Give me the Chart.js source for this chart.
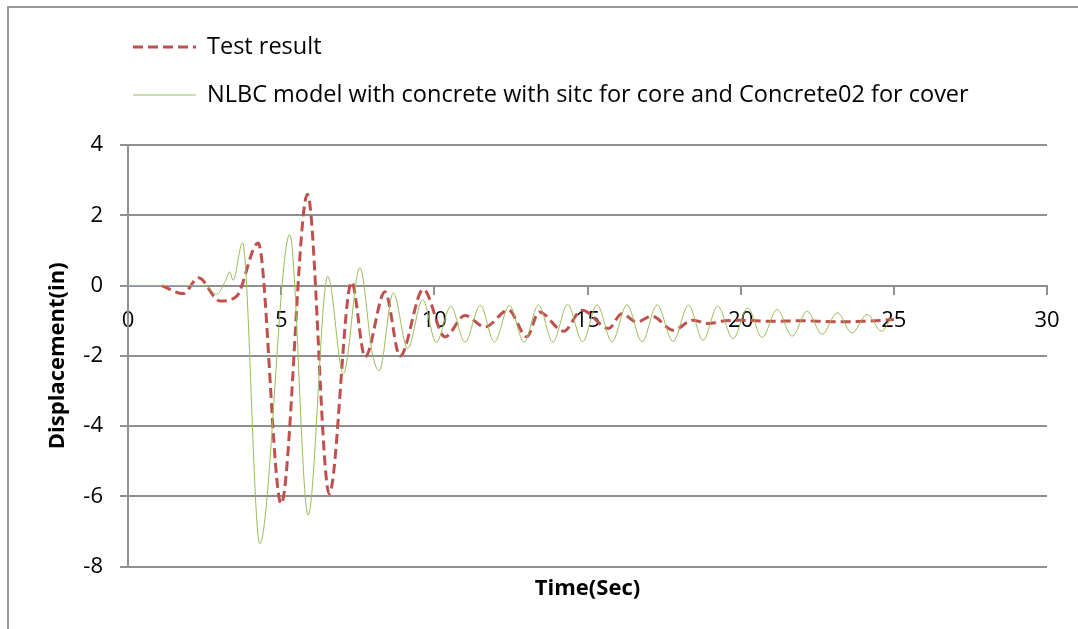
<!DOCTYPE html>
<html>
<head>
<meta charset="utf-8">
<script src="https://cdn.jsdelivr.net/npm/chart.js@4.4.1/dist/chart.umd.min.js"></script>
<style>
html, body { margin: 0; padding: 0; background: #fff; overflow: hidden; }
#wrap { position: relative; width: 1078px; height: 629px; }
#chart { position: absolute; left: 0; top: 0; }
#frame { position: absolute; left: 7px; top: 6px; width: 2000px; height: 2000px; border: 2px solid #9a9a9a; pointer-events: none; }
</style>
</head>
<body>
<div id="wrap">
  <canvas id="chart" width="1078" height="629"></canvas>
  <div id="frame"></div>
</div>
<script>
// ---------------- DATA ----------------
const seriesNames = [
  "Test result",
  "NLBC model with concrete with sitc for core and Concrete02 for cover"
];

// test result (red dashed)
const testTime = [1.1, 1.8, 2.3, 3.0, 3.55, 4.25, 5.0, 5.86, 6.57, 7.3, 7.74, 8.39, 8.88, 9.64,
  10.35, 11.0, 11.65, 12.42, 13.02, 13.42, 14.22, 14.82, 15.69, 16.12, 16.61, 17.1, 17.8,
  18.44, 18.95, 19.5, 20.0, 21.0, 22.0, 23.0, 24.0, 25.0];
const testDisp = [0, -0.23, 0.22, -0.44, -0.3, 1.21, -6.21, 2.6, -5.93, 0.1, -2.03, -0.18, -2.01, -0.11,
  -1.46, -0.85, -1.18, -0.7, -1.46, -0.75, -1.3, -0.7, -1.22, -0.8, -1.04, -0.87, -1.27,
  -0.99, -1.08, -1.0, -0.99, -1.02, -1.0, -1.03, -1.02, -0.97];

// NLBC model (green)
const modelTime = [0, 2.5, 2.89, 3.19, 3.32, 3.43, 3.74, 4.3, 5.28, 5.88, 6.52, 7.03, 7.57, 7.98, 8.2,
  8.66, 9.13, 9.62, 10.06, 10.54, 11.0, 11.5, 11.96, 12.45, 12.93, 13.4, 13.87, 14.35, 14.84,
  15.31, 15.8, 16.29, 16.78, 17.27, 17.79, 18.3, 18.77, 19.25, 19.75, 20.23, 20.7, 21.19,
  21.68, 22.17, 22.66, 23.15, 23.64, 24.13, 24.6, 24.9];
const modelDisp = [0, 0, -0.25, 0.15, 0.39, 0.15, 1.22, -7.35, 1.45, -6.54, 0.26, -2.51, 0.51, -1.95, -2.43,
  -0.21, -1.79, -0.4, -1.62, -0.59, -1.61, -0.56, -1.61, -0.57, -1.61, -0.55, -1.61, -0.54, -1.6,
  -0.55, -1.6, -0.55, -1.6, -0.55, -1.59, -0.56, -1.56, -0.59, -1.51, -0.64, -1.48, -0.68,
  -1.44, -0.73, -1.39, -0.77, -1.35, -0.82, -1.3, -0.95];

const xTicks = [0, 5, 10, 15, 20, 25, 30];
const yTicks = [-8, -6, -4, -2, 0, 2, 4];

// ---------------- CHART ----------------
Chart.defaults.font.family = "'Open Sans', sans-serif";
Chart.defaults.color = "#000";

const gridGrey = "#8f8f8f";

// legend stacked at the top left, like the original
const sideLegend = {
  id: "sideLegend",
  afterDraw(chart) {
    const ctx = chart.ctx;
    ctx.save();
    chart.data.datasets.forEach((ds, i) => {
      const y = 47 + i * 48;
      ctx.beginPath();
      ctx.strokeStyle = ds.borderColor;
      ctx.lineWidth = ds.borderWidth;
      ctx.setLineDash(ds.borderDash || []);
      ctx.moveTo(133, y);
      ctx.lineTo(196, y);
      ctx.stroke();
      ctx.setLineDash([]);
      ctx.fillStyle = "#000";
      ctx.font = "23.5px 'Open Sans'";
      ctx.textBaseline = "middle";
      ctx.fillText(ds.label, 207, y);
    });
    ctx.restore();
  }
};

const ctx = document.getElementById("chart");

new Chart(ctx, {
  type: "line",
  data: {
    datasets: [
      {
        label: seriesNames[0],
        data: testTime.map((t, i) => ({ x: t, y: testDisp[i] })),
        borderColor: "#c0504d",
        borderWidth: 3,
        borderDash: [10, 5],
        pointRadius: 0,
        cubicInterpolationMode: "monotone",
        order: 1
      },
      {
        label: seriesNames[1],
        data: modelTime.map((t, i) => ({ x: t, y: modelDisp[i] })),
        borderColor: "#9bbb59",
        borderWidth: 1,
        pointRadius: 0,
        cubicInterpolationMode: "monotone",
        order: 0
      }
    ]
  },
  options: {
    responsive: false,
    animation: false,
    layout: { padding: { top: 145, left: 8, right: 31, bottom: 17 } },
    plugins: {
      legend: { display: false },
      tooltip: { enabled: false },
      title: {
        display: true,
        text: "Time(Sec)",
        position: "bottom",
        fullSize: false,
        color: "#000",
        font: { size: 22, weight: "bold" },
        padding: { top: 9, bottom: 10 }
      }
    },
    scales: {
      x: {
        type: "linear",
        position: { y: 0 },
        min: xTicks[0],
        max: xTicks[xTicks.length - 1],
        afterFit: (s) => { s.height = 0; },
        ticks: { stepSize: xTicks[1] - xTicks[0], font: { size: 22 }, padding: 14, maxRotation: 0 },
        grid: { drawOnChartArea: false, drawTicks: true, tickLength: 8, color: gridGrey, lineWidth: 2 },
        border: { display: true, color: gridGrey, width: 2 }
      },
      y: {
        min: yTicks[0],
        max: yTicks[yTicks.length - 1],
        afterFit: (s) => { s.width = 120; },
        ticks: { stepSize: yTicks[1] - yTicks[0], font: { size: 22 }, padding: 17 },
        grid: { color: gridGrey, lineWidth: 2, tickLength: 8 },
        border: { display: true, color: gridGrey, width: 2 },
        title: {
          display: true,
          text: "Displacement(in)",
          color: "#000",
          font: { size: 22, weight: "bold" },
          padding: { top: 37, bottom: 0 }
        }
      }
    }
  },
  plugins: [sideLegend]
});
</script>
</body>
</html>
